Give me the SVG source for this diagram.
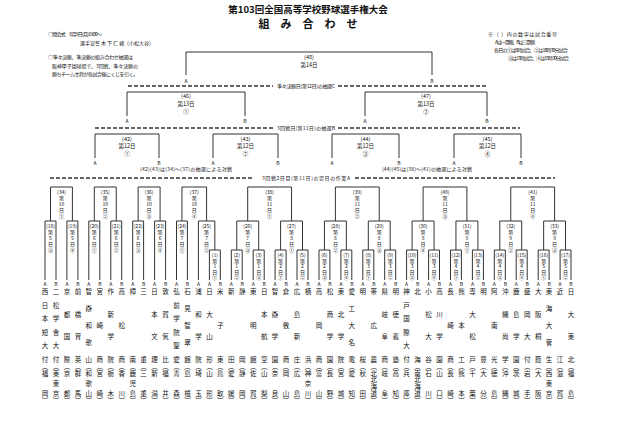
<svg xmlns="http://www.w3.org/2000/svg" width="640" height="426" viewBox="0 0 640 426">
<style>
.ln{fill:none;stroke:#333;stroke-width:1}
.dash{fill:none;stroke:#333;stroke-width:1.6;stroke-dasharray:4 2}
text{font-family:"Noto Sans CJK JP","Noto Sans",sans-serif;fill:#111}
.nm{font-size:6.5px;text-anchor:middle;dominant-baseline:central}
.bx{font-size:5px;text-anchor:middle;dominant-baseline:central}
.gb{font-size:5.5px;text-anchor:middle;dominant-baseline:central}
.ab{font-family:"Liberation Serif",serif;font-size:5px;text-anchor:middle;dominant-baseline:central}
.nt{font-size:5px}
</style>
<rect width="640" height="426" fill="#fff"/>
<g id="header">
<text x="308" y="8.5" font-size="9.5" font-weight="bold" text-anchor="middle" dominant-baseline="central">第103回全国高等学校野球選手権大会</text>
<text y="23" font-size="11" font-weight="bold" text-anchor="middle" dominant-baseline="central"><tspan x="264">組</tspan><tspan x="286">み</tspan><tspan x="308">合</tspan><tspan x="330">わ</tspan><tspan x="352">せ</tspan></text>
<text class="nt" x="48" y="36" textLength="54">○開会式　8月9日(月)19:00～</text>
<text class="nt" x="80" y="45" textLength="74">選手宣誓 木 下 仁 緒（小松大谷）</text>
<text class="nt" x="48" y="59" textLength="85">○準々決勝、準決勝の組み合わせ抽選は</text>
<text class="nt" x="52" y="68" textLength="86">阪神甲子園球場で、3回戦、準々決勝の</text>
<text class="nt" x="52" y="76" textLength="86">勝ちチーム主将が各試合後にくじを引く。</text>
<text class="nt" x="488" y="36" textLength="69">※（ ）内の数字は試合番号</text>
<text class="nt" x="495" y="44" textLength="40">Aは一塁側、Bは三塁側</text>
<text class="nt" x="494" y="52" textLength="74">各日の①は8時試合、②は10時30分試合</text>
<text class="nt" x="508" y="60" textLength="61">③は13時試合、④は15時30分試合</text>
</g>
<g id="dividers">
<path class="dash" d="M128 86H273M338 86H487M95 128H273M338 128H520M50 178H253M355 178H555"/>
<text class="nt" x="277" y="88" textLength="58">準々決勝日(第12日)の抽選C</text>
<text class="nt" x="277" y="130" textLength="58">3回戦日(第11日)の抽選B</text>
<text class="nt" x="262" y="180" textLength="88">3回戦2日目(第11日)の翌日の作業A</text>
<text class="nt" x="140" y="171" textLength="92">(42)(43)は(34)～(37)の抽選による対戦</text>
<text class="nt" x="382" y="171" textLength="90">(44)(45)は(38)～(41)の抽選による対戦</text>
</g>
<g id="connectors" class="ln">
<path d="M186 75V52H432V75"/>
<path d="M127 116V92H245V116M365 116V92H487V116"/>
<path d="M95 158V134H159V158M213 158V134H278V158M332 158V134H399V158M454 158V134H521V158"/>
<path d="M50.5 221V187H72.4V221M94.3 221V187H116.25V221M138.15 221V187H160.1V221M181.95 221V187H206.6V221M247.7 221V187H291.55V221M335.4 221V187H379.25V221M423.1 221V187H466.9V221M510.75 221V187H554.6V221"/>
<path d="M45 280V221H56V280M66.9 280V221H77.9V280M88.8 280V221H99.8V280M110.8 280V221H121.7V280M132.7 280V221H143.6V280M154.6 280V221H165.6V280M176.5 280V221H187.4V280M198.4 280V221H214.85V250"/>
<path d="M236.75 250V221H258.7V250M280.6 250V221H302.5V250M324.45 250V221H346.35V250M368.3 250V221H390.2V250M412.1 250V221H434.05V250M455.95 250V221H477.9V250M499.8 250V221H521.7V250M543.65 250V221H565.55V250"/>
<path d="M209.4 280V250H220.3V280M231.3 280V250H242.2V280M253.2 280V250H264.2V280M275.1 280V250H286.1V280M297 280V250H308V280M319 280V250H329.9V280M340.9 280V250H351.8V280M362.8 280V250H373.8V280M384.7 280V250H395.7V280M406.6 280V250H417.6V280M428.6 280V250H439.5V280M450.5 280V250H461.4V280M472.4 280V250H483.4V280M494.3 280V250H505.3V280M516.2 280V250H527.2V280M538.2 280V250H549.1V280M560.1 280V250H571V280"/>
</g>
<g id="finals" class="gb">
<g id="m48"><text x="309" y="57">(48)</text><text x="309" y="65">第14日</text></g>
<g id="m46"><text x="186" y="96">(46)</text><text x="186" y="103.5">第13日</text><text x="186" y="112">①</text></g>
<g id="m47"><text x="426" y="96">(47)</text><text x="426" y="103.5">第13日</text><text x="426" y="112">②</text></g>
<g id="m42"><text x="127" y="139">(42)</text><text x="127" y="146">第12日</text><text x="127" y="154">①</text></g>
<g id="m43"><text x="245.5" y="139">(43)</text><text x="245.5" y="146">第12日</text><text x="245.5" y="154">②</text></g>
<g id="m44"><text x="365.5" y="139">(44)</text><text x="365.5" y="146">第12日</text><text x="365.5" y="154">③</text></g>
<g id="m45"><text x="487.5" y="139">(45)</text><text x="487.5" y="146">第12日</text><text x="487.5" y="154">④</text></g>
</g>
<g id="ablabels" class="ab">
<text x="186" y="80">A</text><text x="432" y="80">B</text>
<text x="127" y="120">A</text><text x="245" y="120">B</text><text x="365" y="120">A</text><text x="487" y="120">B</text>
<text x="95" y="162">A</text><text x="159" y="162">B</text><text x="213" y="162">A</text><text x="278" y="162">B</text><text x="332" y="162">A</text><text x="399" y="162">B</text><text x="454" y="162">A</text><text x="521" y="162">B</text>
<text x="45" y="283.5">A</text><text x="56" y="283.5">B</text><text x="66.9" y="283.5">A</text><text x="77.9" y="283.5">B</text><text x="88.8" y="283.5">A</text><text x="99.8" y="283.5">B</text><text x="110.8" y="283.5">A</text><text x="121.7" y="283.5">B</text><text x="132.7" y="283.5">A</text><text x="143.6" y="283.5">B</text><text x="154.6" y="283.5">A</text><text x="165.6" y="283.5">B</text><text x="176.5" y="283.5">A</text><text x="187.4" y="283.5">B</text><text x="198.4" y="283.5">A</text><text x="209.4" y="283.5">A</text><text x="220.3" y="283.5">B</text><text x="231.3" y="283.5">A</text><text x="242.2" y="283.5">B</text><text x="253.2" y="283.5">A</text><text x="264.2" y="283.5">B</text><text x="275.1" y="283.5">A</text><text x="286.1" y="283.5">B</text><text x="297" y="283.5">A</text><text x="308" y="283.5">B</text><text x="319" y="283.5">A</text><text x="329.9" y="283.5">B</text><text x="340.9" y="283.5">A</text><text x="351.8" y="283.5">B</text><text x="362.8" y="283.5">A</text><text x="373.8" y="283.5">B</text><text x="384.7" y="283.5">A</text><text x="395.7" y="283.5">B</text><text x="406.6" y="283.5">A</text><text x="417.6" y="283.5">B</text><text x="428.6" y="283.5">A</text><text x="439.5" y="283.5">B</text><text x="450.5" y="283.5">A</text><text x="461.4" y="283.5">B</text><text x="472.4" y="283.5">A</text><text x="483.4" y="283.5">B</text><text x="494.3" y="283.5">A</text><text x="505.3" y="283.5">B</text><text x="516.2" y="283.5">A</text><text x="527.2" y="283.5">B</text><text x="538.2" y="283.5">A</text><text x="549.1" y="283.5">B</text><text x="560.1" y="283.5">A</text><text x="571" y="283.5">B</text>
</g>
<g id="round3" class="bx">
<g id="m34"><text x="61.45" y="191">(34)</text><text x="61.45" y="197.5">第</text><text x="61.45" y="203.5">10</text><text x="61.45" y="209.5">日</text><text x="61.45" y="215.5">①</text></g>
<g id="m35"><text x="105.3" y="191">(35)</text><text x="105.3" y="197.5">第</text><text x="105.3" y="203.5">10</text><text x="105.3" y="209.5">日</text><text x="105.3" y="215.5">②</text></g>
<g id="m36"><text x="149.1" y="191">(36)</text><text x="149.1" y="197.5">第</text><text x="149.1" y="203.5">10</text><text x="149.1" y="209.5">日</text><text x="149.1" y="215.5">③</text></g>
<g id="m37"><text x="194.3" y="191">(37)</text><text x="194.3" y="197.5">第</text><text x="194.3" y="203.5">10</text><text x="194.3" y="209.5">日</text><text x="194.3" y="215.5">④</text></g>
<g id="m38"><text x="269.6" y="191">(38)</text><text x="269.6" y="197.5">第</text><text x="269.6" y="203.5">11</text><text x="269.6" y="209.5">日</text><text x="269.6" y="215.5">①</text></g>
<g id="m39"><text x="357.3" y="191">(39)</text><text x="357.3" y="197.5">第</text><text x="357.3" y="203.5">11</text><text x="357.3" y="209.5">日</text><text x="357.3" y="215.5">②</text></g>
<g id="m40"><text x="445" y="191">(40)</text><text x="445" y="197.5">第</text><text x="445" y="203.5">11</text><text x="445" y="209.5">日</text><text x="445" y="215.5">③</text></g>
<g id="m41"><text x="532.7" y="191">(41)</text><text x="532.7" y="197.5">第</text><text x="532.7" y="203.5">11</text><text x="532.7" y="209.5">日</text><text x="532.7" y="215.5">④</text></g>
</g>
<g id="round2" class="bx">
<g id="m18"><text x="50.5" y="225">(18)</text><text x="50.5" y="231">第</text><text x="50.5" y="237">5</text><text x="50.5" y="243">日</text><text x="50.5" y="249">③</text></g>
<g id="m19"><text x="72.4" y="225">(19)</text><text x="72.4" y="231">第</text><text x="72.4" y="237">5</text><text x="72.4" y="243">日</text><text x="72.4" y="249">④</text></g>
<g id="m20"><text x="94.3" y="225">(20)</text><text x="94.3" y="231">第</text><text x="94.3" y="237">6</text><text x="94.3" y="243">日</text><text x="94.3" y="249">①</text></g>
<g id="m21"><text x="116.25" y="225">(21)</text><text x="116.25" y="231">第</text><text x="116.25" y="237">6</text><text x="116.25" y="243">日</text><text x="116.25" y="249">②</text></g>
<g id="m22"><text x="138.15" y="225">(22)</text><text x="138.15" y="231">第</text><text x="138.15" y="237">6</text><text x="138.15" y="243">日</text><text x="138.15" y="249">③</text></g>
<g id="m23"><text x="160.1" y="225">(23)</text><text x="160.1" y="231">第</text><text x="160.1" y="237">6</text><text x="160.1" y="243">日</text><text x="160.1" y="249">④</text></g>
<g id="m24"><text x="181.95" y="225">(24)</text><text x="181.95" y="231">第</text><text x="181.95" y="237">7</text><text x="181.95" y="243">日</text><text x="181.95" y="249">①</text></g>
<g id="m25"><text x="206.6" y="225">(25)</text><text x="206.6" y="231">第</text><text x="206.6" y="237">7</text><text x="206.6" y="243">日</text><text x="206.6" y="249">②</text></g>
<g id="m26"><text x="247.7" y="225">(26)</text><text x="247.7" y="231">第</text><text x="247.7" y="237">7</text><text x="247.7" y="243">日</text><text x="247.7" y="249">③</text></g>
<g id="m27"><text x="291.55" y="225">(27)</text><text x="291.55" y="231">第</text><text x="291.55" y="237">8</text><text x="291.55" y="243">日</text><text x="291.55" y="249">①</text></g>
<g id="m28"><text x="335.4" y="225">(28)</text><text x="335.4" y="231">第</text><text x="335.4" y="237">8</text><text x="335.4" y="243">日</text><text x="335.4" y="249">②</text></g>
<g id="m29"><text x="379.25" y="225">(29)</text><text x="379.25" y="231">第</text><text x="379.25" y="237">8</text><text x="379.25" y="243">日</text><text x="379.25" y="249">③</text></g>
<g id="m30"><text x="423.1" y="225">(30)</text><text x="423.1" y="231">第</text><text x="423.1" y="237">8</text><text x="423.1" y="243">日</text><text x="423.1" y="249">④</text></g>
<g id="m31"><text x="466.9" y="225">(31)</text><text x="466.9" y="231">第</text><text x="466.9" y="237">9</text><text x="466.9" y="243">日</text><text x="466.9" y="249">①</text></g>
<g id="m32"><text x="510.75" y="225">(32)</text><text x="510.75" y="231">第</text><text x="510.75" y="237">9</text><text x="510.75" y="243">日</text><text x="510.75" y="249">②</text></g>
<g id="m33"><text x="554.6" y="225">(33)</text><text x="554.6" y="231">第</text><text x="554.6" y="237">9</text><text x="554.6" y="243">日</text><text x="554.6" y="249">③</text></g>
</g>
<g id="round1" class="bx">
<g id="m1"><text x="214.85" y="254">(1)</text><text x="214.85" y="260">第</text><text x="214.85" y="265.5">1</text><text x="214.85" y="271">日</text><text x="214.85" y="276.5">①</text></g>
<g id="m2"><text x="236.75" y="254">(2)</text><text x="236.75" y="260">第</text><text x="236.75" y="265.5">1</text><text x="236.75" y="271">日</text><text x="236.75" y="276.5">②</text></g>
<g id="m3"><text x="258.7" y="254">(3)</text><text x="258.7" y="260">第</text><text x="258.7" y="265.5">1</text><text x="258.7" y="271">日</text><text x="258.7" y="276.5">③</text></g>
<g id="m4"><text x="280.6" y="254">(4)</text><text x="280.6" y="260">第</text><text x="280.6" y="265.5">2</text><text x="280.6" y="271">日</text><text x="280.6" y="276.5">①</text></g>
<g id="m5"><text x="302.5" y="254">(5)</text><text x="302.5" y="260">第</text><text x="302.5" y="265.5">2</text><text x="302.5" y="271">日</text><text x="302.5" y="276.5">②</text></g>
<g id="m6"><text x="324.45" y="254">(6)</text><text x="324.45" y="260">第</text><text x="324.45" y="265.5">2</text><text x="324.45" y="271">日</text><text x="324.45" y="276.5">③</text></g>
<g id="m7"><text x="346.35" y="254">(7)</text><text x="346.35" y="260">第</text><text x="346.35" y="265.5">2</text><text x="346.35" y="271">日</text><text x="346.35" y="276.5">④</text></g>
<g id="m8"><text x="368.3" y="254">(8)</text><text x="368.3" y="260">第</text><text x="368.3" y="265.5">3</text><text x="368.3" y="271">日</text><text x="368.3" y="276.5">①</text></g>
<g id="m9"><text x="390.2" y="254">(9)</text><text x="390.2" y="260">第</text><text x="390.2" y="265.5">3</text><text x="390.2" y="271">日</text><text x="390.2" y="276.5">②</text></g>
<g id="m10"><text x="412.1" y="254">(10)</text><text x="412.1" y="260">第</text><text x="412.1" y="265.5">3</text><text x="412.1" y="271">日</text><text x="412.1" y="276.5">③</text></g>
<g id="m11"><text x="434.05" y="254">(11)</text><text x="434.05" y="260">第</text><text x="434.05" y="265.5">3</text><text x="434.05" y="271">日</text><text x="434.05" y="276.5">④</text></g>
<g id="m12"><text x="455.95" y="254">(12)</text><text x="455.95" y="260">第</text><text x="455.95" y="265.5">4</text><text x="455.95" y="271">日</text><text x="455.95" y="276.5">①</text></g>
<g id="m13"><text x="477.9" y="254">(13)</text><text x="477.9" y="260">第</text><text x="477.9" y="265.5">4</text><text x="477.9" y="271">日</text><text x="477.9" y="276.5">②</text></g>
<g id="m14"><text x="499.8" y="254">(14)</text><text x="499.8" y="260">第</text><text x="499.8" y="265.5">4</text><text x="499.8" y="271">日</text><text x="499.8" y="276.5">③</text></g>
<g id="m15"><text x="521.7" y="254">(15)</text><text x="521.7" y="260">第</text><text x="521.7" y="265.5">4</text><text x="521.7" y="271">日</text><text x="521.7" y="276.5">④</text></g>
<g id="m16"><text x="543.65" y="254">(16)</text><text x="543.65" y="260">第</text><text x="543.65" y="265.5">5</text><text x="543.65" y="271">日</text><text x="543.65" y="276.5">①</text></g>
<g id="m17"><text x="565.55" y="254">(17)</text><text x="565.55" y="260">第</text><text x="565.55" y="265.5">5</text><text x="565.55" y="271">日</text><text x="565.55" y="276.5">②</text></g>
</g>
<g id="teams" class="nm">
<g id="t0"><text x="45 45 45 45 45 45" y="291 304.6 318.2 331.8 345.4 359">西日本短大付</text><text x="45 45 45 45" y="365.5 372.5 393 399.5">︵福岡︶</text></g>
<g id="t1"><text x="56 56 56 56 56 56" y="291 304.6 318.2 331.8 345.4 359">二松学舎大付</text><text x="56 56 56 56 56" y="365.5 372.5 382.8 393 399.5">︵東東京︶</text></g>
<g id="t2"><text x="66.9 66.9 66.9 66.9" y="291 313.7 336.3 359">京都国際</text><text x="66.9 66.9 66.9 66.9" y="365.5 372.5 393 399.5">︵京都︶</text></g>
<g id="t3"><text x="77.9 77.9 77.9 77.9" y="291 313.7 336.3 359">前橋育英</text><text x="77.9 77.9 77.9 77.9" y="365.5 372.5 393 399.5">︵群馬︶</text></g>
<g id="t4"><text x="88.8 88.8 88.8 88.8 88.8" y="291 308 325 342 359">智辯和歌山</text><text x="88.8 88.8 88.8 88.8 88.8" y="365.5 372.5 382.8 393 399.5">︵和歌山︶</text></g>
<g id="t5"><text x="99.8 99.8 99.8" y="291 325 359">宮崎商</text><text x="99.8 99.8 99.8 99.8" y="365.5 372.5 393 399.5">︵宮崎︶</text></g>
<g id="t6"><text x="110.8 110.8 110.8 110.8" y="291 313.7 336.3 359">作新学院</text><text x="110.8 110.8 110.8 110.8" y="365.5 372.5 393 399.5">︵栃木︶</text></g>
<g id="t7"><text x="121.7 121.7 121.7" y="291 325 359">高松商</text><text x="121.7 121.7 121.7 121.7" y="365.5 372.5 393 399.5">︵香川︶</text></g>
<g id="t8"><text x="132.7 132.7" y="291 359">樟南</text><text x="132.7 132.7 132.7 132.7 132.7" y="365.5 372.5 382.8 393 399.5">︵鹿児島︶</text></g>
<g id="t9"><text x="143.6 143.6" y="291 359">三重</text><text x="143.6 143.6 143.6 143.6" y="365.5 372.5 393 399.5">︵三重︶</text></g>
<g id="t10"><text x="154.6 154.6 154.6 154.6" y="291 313.7 336.3 359">日本文理</text><text x="154.6 154.6 154.6 154.6" y="365.5 372.5 393 399.5">︵新潟︶</text></g>
<g id="t11"><text x="165.6 165.6 165.6 165.6" y="291 313.7 336.3 359">敦賀気比</text><text x="165.6 165.6 165.6 165.6" y="365.5 372.5 393 399.5">︵福井︶</text></g>
<g id="t12"><text x="176.5 176.5 176.5 176.5 176.5 176.5" y="291 304.6 318.2 331.8 345.4 359">弘前学院聖愛</text><text x="176.5 176.5 176.5 176.5" y="365.5 372.5 393 399.5">︵青森︶</text></g>
<g id="t13"><text x="187.4 187.4 187.4 187.4 187.4" y="291 308 325 342 359">石見智翠館</text><text x="187.4 187.4 187.4 187.4" y="365.5 372.5 393 399.5">︵島根︶</text></g>
<g id="t14"><text x="198.4 198.4 198.4 198.4" y="291 313.7 336.3 359">浦和学院</text><text x="198.4 198.4 198.4 198.4" y="365.5 372.5 393 399.5">︵埼玉︶</text></g>
<g id="t15"><text x="209.4 209.4 209.4 209.4" y="291 313.7 336.3 359">日大山形</text><text x="209.4 209.4 209.4 209.4" y="365.5 372.5 393 399.5">︵山形︶</text></g>
<g id="t16"><text x="220.3 220.3 220.3" y="291 325 359">米子東</text><text x="220.3 220.3 220.3 220.3" y="365.5 372.5 393 399.5">︵鳥取︶</text></g>
<g id="t17"><text x="231.3 231.3" y="291 359">新田</text><text x="231.3 231.3 231.3 231.3" y="365.5 372.5 393 399.5">︵愛媛︶</text></g>
<g id="t18"><text x="242.2 242.2" y="291 359">静岡</text><text x="242.2 242.2 242.2 242.2" y="365.5 372.5 393 399.5">︵静岡︶</text></g>
<g id="t19"><text x="253.2 253.2 253.2" y="291 325 359">東明館</text><text x="253.2 253.2 253.2 253.2" y="365.5 372.5 393 399.5">︵佐賀︶</text></g>
<g id="t20"><text x="264.2 264.2 264.2 264.2" y="291 313.7 336.3 359">日本航空</text><text x="264.2 264.2 264.2 264.2" y="365.5 372.5 393 399.5">︵山梨︶</text></g>
<g id="t21"><text x="275.1 275.1 275.1 275.1" y="291 313.7 336.3 359">智辯学園</text><text x="275.1 275.1 275.1 275.1" y="365.5 372.5 393 399.5">︵奈良︶</text></g>
<g id="t22"><text x="286.1 286.1 286.1" y="291 325 359">倉敷商</text><text x="286.1 286.1 286.1 286.1" y="365.5 372.5 393 399.5">︵岡山︶</text></g>
<g id="t23"><text x="297 297 297 297" y="291 313.7 336.3 359">広島新庄</text><text x="297 297 297 297" y="365.5 372.5 393 399.5">︵広島︶</text></g>
<g id="t24"><text x="308 308" y="291 359">横浜</text><text x="308 308 308 308 308" y="365.5 372.5 382.8 393 399.5">︵神奈川︶</text></g>
<g id="t25"><text x="319 319 319" y="291 325 359">高岡商</text><text x="319 319 319 319" y="365.5 372.5 393 399.5">︵富山︶</text></g>
<g id="t26"><text x="329.9 329.9 329.9 329.9" y="291 313.7 336.3 359">松商学園</text><text x="329.9 329.9 329.9 329.9" y="365.5 372.5 393 399.5">︵長野︶</text></g>
<g id="t27"><text x="340.9 340.9 340.9 340.9" y="291 313.7 336.3 359">東北学院</text><text x="340.9 340.9 340.9 340.9" y="365.5 372.5 393 399.5">︵宮城︶</text></g>
<g id="t28"><text x="351.8 351.8 351.8 351.8 351.8" y="291 308 325 342 359">愛工大名電</text><text x="351.8 351.8 351.8 351.8" y="365.5 372.5 393 399.5">︵愛知︶</text></g>
<g id="t29"><text x="362.8 362.8" y="291 359">明桜</text><text x="362.8 362.8 362.8 362.8" y="365.5 372.5 393 399.5">︵秋田︶</text></g>
<g id="t30"><text x="373.8 373.8 373.8" y="291 325 359">帯広農</text><text x="373.8 373.8 373.8 373.8 373.8 373.8" y="365.5 372.5 379.3 386.2 393 399.5">︵北北海道︶</text></g>
<g id="t31"><text x="384.7 384.7 384.7 384.7" y="291 313.7 336.3 359">県岐阜商</text><text x="384.7 384.7 384.7 384.7" y="365.5 372.5 393 399.5">︵岐阜︶</text></g>
<g id="t32"><text x="395.7 395.7 395.7 395.7" y="291 313.7 336.3 359">明徳義塾</text><text x="395.7 395.7 395.7 395.7" y="365.5 372.5 393 399.5">︵高知︶</text></g>
<g id="t33"><text x="406.6 406.6 406.6 406.6 406.6 406.6" y="291 304.6 318.2 331.8 345.4 359">神戸国際大付</text><text x="406.6 406.6 406.6 406.6" y="365.5 372.5 393 399.5">︵兵庫︶</text></g>
<g id="t34"><text x="417.6 417.6" y="291 359">北海</text><text x="417.6 417.6 417.6 417.6 417.6 417.6" y="365.5 372.5 379.3 386.2 393 399.5">︵南北海道︶</text></g>
<g id="t35"><text x="428.6 428.6 428.6 428.6" y="291 313.7 336.3 359">小松大谷</text><text x="428.6 428.6 428.6 428.6" y="365.5 372.5 393 399.5">︵石川︶</text></g>
<g id="t36"><text x="439.5 439.5 439.5 439.5" y="291 313.7 336.3 359">高川学園</text><text x="439.5 439.5 439.5 439.5" y="365.5 372.5 393 399.5">︵山口︶</text></g>
<g id="t37"><text x="450.5 450.5 450.5" y="291 325 359">長崎商</text><text x="450.5 450.5 450.5 450.5" y="365.5 372.5 393 399.5">︵長崎︶</text></g>
<g id="t38"><text x="461.4 461.4 461.4" y="291 325 359">熊本工</text><text x="461.4 461.4 461.4 461.4" y="365.5 372.5 393 399.5">︵熊本︶</text></g>
<g id="t39"><text x="472.4 472.4 472.4 472.4" y="291 313.7 336.3 359">専大松戸</text><text x="472.4 472.4 472.4 472.4" y="365.5 372.5 393 399.5">︵千葉︶</text></g>
<g id="t40"><text x="483.4 483.4" y="291 359">明豊</text><text x="483.4 483.4 483.4 483.4" y="365.5 372.5 393 399.5">︵大分︶</text></g>
<g id="t41"><text x="494.3 494.3 494.3" y="291 325 359">阿南光</text><text x="494.3 494.3 494.3 494.3" y="365.5 372.5 393 399.5">︵徳島︶</text></g>
<g id="t42"><text x="505.3 505.3 505.3 505.3" y="291 313.7 336.3 359">沖縄尚学</text><text x="505.3 505.3 505.3 505.3" y="365.5 372.5 393 399.5">︵沖縄︶</text></g>
<g id="t43"><text x="516.2 516.2 516.2 516.2" y="291 313.7 336.3 359">鹿島学園</text><text x="516.2 516.2 516.2 516.2" y="365.5 372.5 393 399.5">︵茨城︶</text></g>
<g id="t44"><text x="527.2 527.2 527.2 527.2" y="291 313.7 336.3 359">盛岡大付</text><text x="527.2 527.2 527.2 527.2" y="365.5 372.5 393 399.5">︵岩手︶</text></g>
<g id="t45"><text x="538.2 538.2 538.2 538.2" y="291 313.7 336.3 359">大阪桐蔭</text><text x="538.2 538.2 538.2 538.2" y="365.5 372.5 393 399.5">︵大阪︶</text></g>
<g id="t46"><text x="549.1 549.1 549.1 549.1 549.1" y="291 308 325 342 359">東海大菅生</text><text x="549.1 549.1 549.1 549.1 549.1" y="365.5 372.5 382.8 393 399.5">︵西東京︶</text></g>
<g id="t47"><text x="560.1 560.1" y="291 359">近江</text><text x="560.1 560.1 560.1 560.1" y="365.5 372.5 393 399.5">︵滋賀︶</text></g>
<g id="t48"><text x="571 571 571 571" y="291 313.7 336.3 359">日大東北</text><text x="571 571 571 571" y="365.5 372.5 393 399.5">︵福島︶</text></g>
</g>
</svg>
